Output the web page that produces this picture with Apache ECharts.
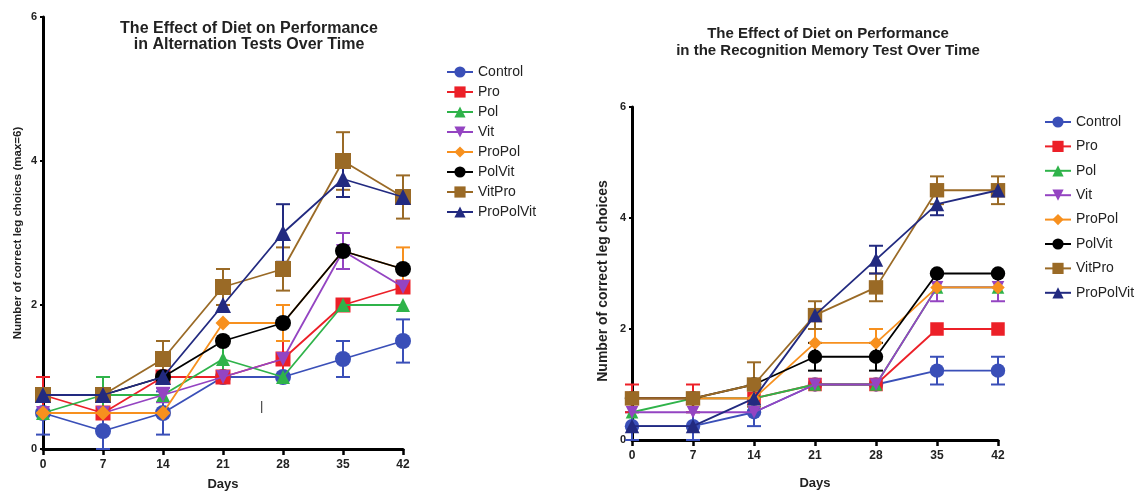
<!DOCTYPE html>
<html><head><meta charset="utf-8">
<script src="https://cdn.jsdelivr.net/npm/echarts@6/dist/echarts.min.js"></script>
<style>html,body{margin:0;padding:0;background:#fff}#c{width:1137px;height:491px}</style>
</head><body><div id="c"></div>
<script>
var days = [0, 7, 14, 21, 28, 35, 42];
var groups = ['Control', 'Pro', 'Pol', 'Vit', 'ProPol', 'PolVit', 'VitPro', 'ProPolVit'];
var yTicks = [0, 2, 4, 6];

// Left chart: Alternation tests
var altControl   = [0.5, 0.25, 0.5, 1.0, 1.0, 1.25, 1.5];
var altPro       = [0.75, 0.5, 1.0, 1.0, 1.25, 2.0, 2.25];
var altPol       = [0.5, 0.75, 0.75, 1.25, 1.0, 2.0, 2.0];
var altVit       = [0.5, 0.5, 0.75, 1.0, 1.25, 2.75, 2.25];
var altProPol    = [0.5, 0.5, 0.5, 1.75, 1.75, 2.75, 2.5];
var altPolVit    = [0.75, 0.75, 1.0, 1.5, 1.75, 2.75, 2.5];
var altVitPro    = [0.75, 0.75, 1.25, 2.25, 2.5, 4.0, 3.5];
var altProPolVit = [0.75, 0.75, 1.0, 2.0, 3.0, 3.75, 3.5];
var altErrControl   = [0.3, 0.25, 0.3, 0, 0, 0.25, 0.3];
var altErrPro       = [0.25, 0, 0, 0, 0.25, 0, 0];
var altErrPol       = [0, 0.25, 0, 0.25, 0, 0, 0];
var altErrVit       = [0, 0, 0.1, 0, 0, 0.25, 0];
var altErrProPol    = [0, 0, 0, 0, 0.25, 0, 0.3];
var altErrPolVit    = [0, 0, 0, 0, 0, 0, 0];
var altErrVitPro    = [0, 0, 0.25, 0.25, 0.3, 0.4, 0.3];
var altErrProPolVit = [0, 0, 0, 0, 0.4, 0.25, 0];

// Right chart: Recognition memory test
var recControl   = [0.25, 0.25, 0.5, 1.0, 1.0, 1.25, 1.25];
var recPro       = [0.75, 0.75, 0.75, 1.0, 1.0, 2.0, 2.0];
var recPol       = [0.5, 0.75, 0.75, 1.0, 1.0, 2.75, 2.75];
var recVit       = [0.5, 0.5, 0.5, 1.0, 1.0, 2.75, 2.75];
var recProPol    = [0.75, 0.75, 0.75, 1.75, 1.75, 2.75, 2.75];
var recPolVit    = [0.75, 0.75, 1.0, 1.5, 1.5, 3.0, 3.0];
var recVitPro    = [0.75, 0.75, 1.0, 2.25, 2.75, 4.5, 4.5];
var recProPolVit = [0.25, 0.25, 0.75, 2.25, 3.25, 4.25, 4.5];
var recErrControl   = [0.25, 0.25, 0.25, 0, 0, 0.25, 0.25];
var recErrPro       = [0.25, 0.25, 0.25, 0, 0, 0, 0];
var recErrPol       = [0, 0, 0, 0, 0, 0, 0];
var recErrVit       = [0, 0, 0, 0, 0, 0.25, 0.25];
var recErrProPol    = [0, 0, 0, 0.25, 0.25, 0, 0];
var recErrPolVit    = [0, 0, 0, 0.25, 0.25, 0, 0];
var recErrVitPro    = [0, 0, 0.4, 0.25, 0.25, 0.25, 0.25];
var recErrProPolVit = [0, 0, 0, 0, 0.25, 0.2, 0];

var altVals = [altControl, altPro, altPol, altVit, altProPol, altPolVit, altVitPro, altProPolVit];
var altErrs = [altErrControl, altErrPro, altErrPol, altErrVit, altErrProPol, altErrPolVit, altErrVitPro, altErrProPolVit];
var recVals = [recControl, recPro, recPol, recVit, recProPol, recPolVit, recVitPro, recProPolVit];
var recErrs = [recErrControl, recErrPro, recErrPol, recErrVit, recErrProPol, recErrPolVit, recErrVitPro, recErrProPolVit];

var colors = ['#3a4fb8', '#ec2028', '#2fb34a', '#9444c2', '#f7901e', '#000000', '#9a6a26', '#222a80'];
var symbols = ['circle', 'rect', 'triangle', 'path://M0,0 L10,0 L5,9 Z', 'diamond', 'circle', 'rect', 'triangle'];
var symSize = [16, 15, 14, 14, 15, 16, 16, 16];

function errSeries(vals, errs, idx, gi) {
  var data = [];
  for (var i = 0; i < days.length; i++) {
    if (errs[i] > 0) data.push([days[i], vals[i] - errs[i], vals[i] + errs[i]]);
  }
  return {
    type: 'custom', name: 'err' + gi + '_' + idx, xAxisIndex: gi, yAxisIndex: gi, z: 2,
    silent: true,
    renderItem: function (params, api) {
      var x = api.value(0);
      var lo = api.coord([x, api.value(1)]);
      var hi = api.coord([x, api.value(2)]);
      var w = 7;
      var st = { stroke: colors[idx], lineWidth: 2 };
      return { type: 'group', children: [
        { type: 'line', shape: { x1: lo[0], y1: lo[1], x2: hi[0], y2: hi[1] }, style: st },
        { type: 'line', shape: { x1: lo[0] - w, y1: lo[1], x2: lo[0] + w, y2: lo[1] }, style: st },
        { type: 'line', shape: { x1: hi[0] - w, y1: hi[1], x2: hi[0] + w, y2: hi[1] }, style: st }
      ]};
    },
    data: data
  };
}

var series = [];
[[altVals, altErrs], [recVals, recErrs]].forEach(function (pair, gi) {
  for (var k = 0; k < groups.length; k++) {
    series.push(errSeries(pair[0][k], pair[1][k], k, gi));
  }
  for (var k2 = 0; k2 < groups.length; k2++) {
    series.push({
      type: 'line', name: groups[k2], xAxisIndex: gi, yAxisIndex: gi, z: 3 + k2,
      data: days.map(function (d, i) { return [d, pair[0][k2][i]]; }),
      symbol: symbols[k2], symbolSize: symSize[k2] * (gi === 1 ? 0.9 : 1),
      showAllSymbol: true,
      itemStyle: { color: colors[k2], opacity: 1 },
      lineStyle: { color: colors[k2], width: 1.8 },
      emphasis: { disabled: true }, animation: false
    });
  }
});

function xAxis(gi, gap) {
  return {
    type: 'value', gridIndex: gi, min: 0, max: 42, interval: 7,
    name: 'Days', nameLocation: 'middle', nameGap: gap,
    nameTextStyle: { fontFamily: 'Liberation Sans', fontWeight: 'bold', fontSize: 13, color: '#222' },
    axisLine: { lineStyle: { color: '#000', width: 3 } },
    axisTick: { length: 6, lineStyle: { color: '#000', width: 2.5 } },
    axisLabel: { fontFamily: 'Liberation Sans', fontWeight: 'bold', fontSize: 12, color: '#222', margin: 10 },
    splitLine: { show: false }
  };
}
function yAxis(gi, name, gap) {
  return {
    type: 'value', gridIndex: gi, min: yTicks[0], max: yTicks[yTicks.length - 1], interval: 2,
    name: name, nameLocation: 'middle', nameGap: gap, nameRotate: 90,
    nameTextStyle: { fontFamily: 'Liberation Sans', fontWeight: 'bold', fontSize: 11.5, color: '#222' },
    axisLine: { show: true, lineStyle: { color: '#000', width: 3 } },
    axisTick: { show: true, length: 3, lineStyle: { color: '#000', width: 2 } },
    axisLabel: { fontFamily: 'Liberation Sans', fontWeight: 'bold', fontSize: 11, color: '#222', margin: 6 },
    splitLine: { show: false }
  };
}

function legend(left, top, gap) {
  return {
    data: groups, orient: 'vertical', left: left, top: top, itemGap: gap,
    itemWidth: 26, itemHeight: 14, selectedMode: false,
    textStyle: { fontFamily: 'Liberation Sans', fontSize: 14, lineHeight: 14, color: '#222' }
  };
}

var chart = echarts.init(document.getElementById('c'), null, { renderer: 'canvas' });
chart.setOption({
  backgroundColor: '#fff',
  animation: false,
  title: [
    { text: 'The Effect of Diet on Performance\nin Alternation Tests Over Time', left: 244, top: 15, textAlign: 'center',
      textStyle: { fontFamily: 'Liberation Sans', fontWeight: 'bold', fontSize: 16, lineHeight: 16.5, color: '#222' } },
    { text: 'The Effect of Diet on Performance\nin the Recognition Memory Test Over Time', left: 823, top: 20, textAlign: 'center',
      textStyle: { fontFamily: 'Liberation Sans', fontWeight: 'bold', fontSize: 15, lineHeight: 17, color: '#222' } }
  ],
  grid: [
    { left: 43, top: 17, width: 360, height: 432, outerBoundsMode: 'none', containLabel: false },
    { left: 632, top: 107, width: 366, height: 333, outerBoundsMode: 'none', containLabel: false }
  ],
  xAxis: [xAxis(0, 29), xAxis(1, 37)],
  yAxis: [yAxis(0, 'Number of correct leg choices (max=6)', 19), yAxis(1, '', 22)],
  legend: [legend(441, 60, 6), legend(1039, 110, 10.4)],
  graphic: [
    { type: 'text', left: 260, top: 400, style: { text: '|', fontSize: 13, fill: '#333', fontFamily: 'Liberation Sans' } },
    { type: 'text', x: 603, y: 281, rotation: Math.PI / 2,
      style: { text: 'Number of correct leg choices', fontFamily: 'Liberation Sans', fontWeight: 'bold', fontSize: 14,
               fill: '#222', align: 'center', verticalAlign: 'middle' } }
  ],
  series: series
});
</script>
</body></html>
